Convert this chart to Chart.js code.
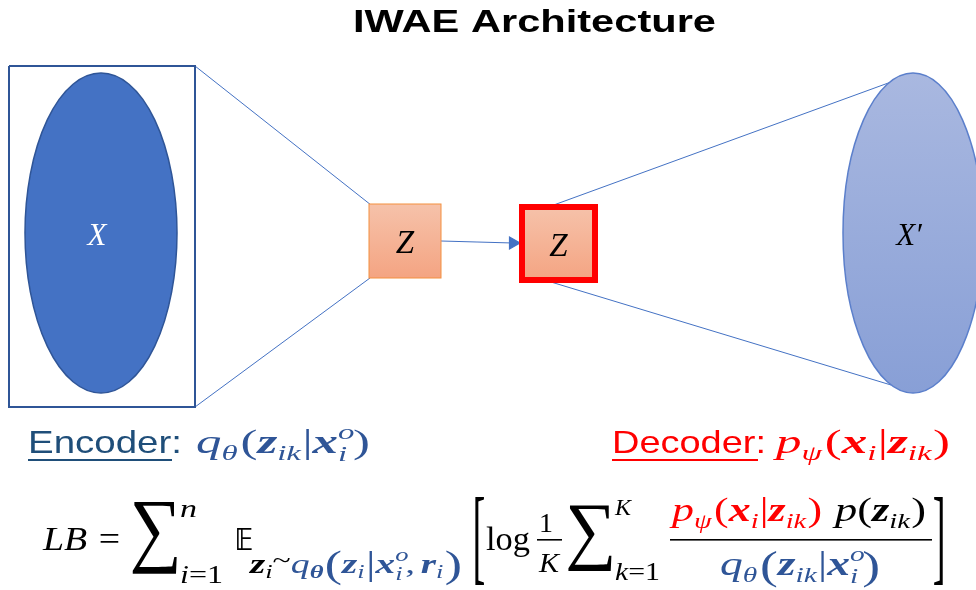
<!DOCTYPE html>
<html>
<head>
<meta charset="utf-8">
<script src="https://cdn.jsdelivr.net/npm/chart.js@4.4.0/dist/chart.umd.min.js"></script>
<style>
  body { margin: 0; background: #fff; }
  #wrap { width: 976px; height: 590px; }
</style>
</head>
<body>
<div id="wrap"><canvas id="diagram" width="976" height="590"></canvas></div>
<script>
// diagram content, in page units (x to the right, y downwards)
const title = 'IWAE Architecture';
const frame = [{x: 9, y: 66}, {x: 195, y: 66}, {x: 195, y: 407}, {x: 9, y: 407}, {x: 9, y: 66}];
const encoderEdges = [
    [{x: 195, y: 66}, {x: 371, y: 205}],
    [{x: 195, y: 407}, {x: 370, y: 278}]
];
const decoderEdges = [
    [{x: 551, y: 206}, {x: 891, y: 82}],
    [{x: 551, y: 282}, {x: 891, y: 385}]
];
const arrow = [{x: 441, y: 241}, {x: 513, y: 243}];
const boxes = [
    {x0: 369, y0: 204, x1: 441, y1: 278, label: 'Z', border: '#F4903F', width: 1},
    {x0: 522, y0: 207, x1: 595, y1: 280, label: 'Z', border: '#FF0000', width: 6}
];
const ellipses = [
    {cx: 101, cy: 233, rx: 76, ry: 160, label: 'X', top: '#4472C4', bottom: '#4472C4', edge: '#2F5597', ink: '#fff'},
    {cx: 913, cy: 233, rx: 70, ry: 160, label: 'X\u2032', top: '#A9B8E0', bottom: '#889FD6', edge: '#5B7FCB', ink: '#000'}
];
const encoderLabel = 'Encoder';
const decoderLabel = 'Decoder';

const BLUE = '#2F5597';
const RED = '#FF0000';
const SERIF = "'Liberation Serif', 'DejaVu Serif', serif";

function seg(t, st, sz, dy, c, extra) {
    return Object.assign({t: t, st: st, sz: sz, dy: dy || 0, c: c}, extra || {});
}
function fontOf(s) {
    const w = {i: 'italic ', b: 'bold ', bi: 'italic bold ', r: ''}[s.st];
    return w + s.sz + 'px ' + (s.fam || SERIF);
}
function runWidth(ctx, segs) {
    let w = 0;
    segs.forEach(s => {
        ctx.font = fontOf(s);
        if (!s.hold) w += ctx.measureText(s.t).width + (s.gap || 0);
    });
    return w;
}
// draws a row of text pieces, stretched so it spans x0..x1
function fitRun(ctx, x0, x1, y, segs) {
    const sx = (x1 - x0) / runWidth(ctx, segs);
    ctx.save();
    ctx.translate(x0, y);
    ctx.scale(sx, 1);
    let cx = 0;
    segs.forEach(s => {
        ctx.font = fontOf(s);
        ctx.fillStyle = s.c;
        ctx.fillText(s.t, cx, s.dy);
        if (!s.hold) cx += ctx.measureText(s.t).width + (s.gap || 0);
    });
    ctx.restore();
}
// draws one glyph scaled into a box
function fitGlyph(ctx, t, font, color, x0, y0, x1, y1) {
    ctx.font = font;
    const m = ctx.measureText(t);
    const w = m.actualBoundingBoxLeft + m.actualBoundingBoxRight;
    const h = m.actualBoundingBoxAscent + m.actualBoundingBoxDescent;
    ctx.save();
    ctx.translate(x0, y0);
    ctx.scale((x1 - x0) / w, (y1 - y0) / h);
    ctx.fillStyle = color;
    ctx.fillText(t, m.actualBoundingBoxLeft, m.actualBoundingBoxAscent);
    ctx.restore();
}

const shapes = {
    id: 'shapes',
    beforeDraw(chart) {
        const ctx = chart.ctx;
        ctx.save();
        ctx.fillStyle = '#fff';
        ctx.fillRect(0, 0, chart.width, chart.height);
        ctx.restore();
    },
    afterDatasetsDraw(chart) {
        const ctx = chart.ctx;
        const sx = chart.scales.x, sy = chart.scales.y;
        ctx.save();
        ellipses.forEach(e => {
            const cx = sx.getPixelForValue(e.cx), cy = sy.getPixelForValue(e.cy);
            const rx = sx.getPixelForValue(e.cx + e.rx) - cx, ry = sy.getPixelForValue(e.cy + e.ry) - cy;
            const g = ctx.createLinearGradient(0, cy - ry, 0, cy + ry);
            g.addColorStop(0, e.top);
            g.addColorStop(1, e.bottom);
            ctx.beginPath();
            ctx.ellipse(cx, cy, rx, ry, 0, 0, Math.PI * 2);
            ctx.fillStyle = g;
            ctx.fill();
            ctx.lineWidth = 1.5;
            ctx.strokeStyle = e.edge;
            ctx.stroke();
            ctx.font = 'italic 31px ' + SERIF;
            ctx.fillStyle = e.ink;
            ctx.textAlign = 'center';
            ctx.fillText(e.label, cx - 4, cy + 12);
        });
        boxes.forEach(b => {
            const x0 = sx.getPixelForValue(b.x0), x1 = sx.getPixelForValue(b.x1);
            const y0 = sy.getPixelForValue(b.y0), y1 = sy.getPixelForValue(b.y1);
            const g = ctx.createLinearGradient(0, y0, 0, y1);
            g.addColorStop(0, '#F6C2AA');
            g.addColorStop(1, '#F4A482');
            ctx.fillStyle = g;
            ctx.fillRect(x0, y0, x1 - x0, y1 - y0);
            ctx.lineWidth = b.width;
            ctx.strokeStyle = b.border;
            ctx.strokeRect(x0, y0, x1 - x0, y1 - y0);
            ctx.font = 'italic 33px ' + SERIF;
            ctx.fillStyle = '#000';
            ctx.textAlign = 'center';
            ctx.fillText(b.label, (x0 + x1) / 2, (y0 + y1) / 2 + 12);
        });
        ctx.restore();
    },
    afterDraw(chart) {
        const ctx = chart.ctx;
        ctx.save();
        ctx.textAlign = 'left';
        ctx.textBaseline = 'alphabetic';

        // title
        fitRun(ctx, 353, 716, 32, [seg(title, 'b', 31, 0, '#000', {fam: "'Liberation Sans', Arial, sans-serif"})]);

        // encoder / decoder captions
        const sans = {fam: "'Liberation Sans', Arial, sans-serif"};
        fitRun(ctx, 28, 182, 453, [seg(encoderLabel, 'r', 32, 0, '#1F4E79', sans), seg(':', 'r', 32, 0, '#1F4E79', sans)]);
        ctx.fillStyle = '#1F4E79';
        ctx.fillRect(28, 459, 144, 2);
        fitRun(ctx, 612, 766, 453, [seg(decoderLabel, 'r', 32, 0, RED, sans), seg(':', 'r', 32, 0, RED, sans)]);
        ctx.fillStyle = RED;
        ctx.fillRect(612, 459, 146, 2);

        fitRun(ctx, 196, 370, 453, [
            seg('q', 'i', 34, 0, BLUE), seg('\u03b8', 'i', 22, 7, BLUE, {gap: 2}), seg('(', 'r', 34, 0, BLUE),
            seg('z', 'bi', 34, 0, BLUE), seg('ik', 'i', 22, 7, BLUE, {gap: 1}), seg('|', 'r', 34, 0, BLUE),
            seg('x', 'bi', 34, 0, BLUE), seg('o', 'i', 22, -14, BLUE, {hold: true}), seg('i', 'i', 22, 8, BLUE, {gap: 4}),
            seg(')', 'r', 34, 0, BLUE)
        ]);
        fitRun(ctx, 776, 950, 453, [
            seg('p', 'i', 34, 0, RED), seg('\u03c8', 'i', 22, 7, RED, {gap: 2}), seg('(', 'r', 34, 0, RED),
            seg('x', 'bi', 34, 0, RED), seg('i', 'i', 22, 7, RED, {gap: 1}), seg('|', 'r', 34, 0, RED),
            seg('z', 'bi', 34, 0, RED), seg('ik', 'i', 22, 7, RED, {gap: 1}), seg(')', 'r', 34, 0, RED)
        ]);

        // lower bound formula
        const K = '#000';
        fitRun(ctx, 43, 120, 550, [seg('LB', 'i', 33, 0, K, {gap: 10}), seg('=', 'r', 33, 0, K)]);
        fitGlyph(ctx, '\u2211', '80px ' + SERIF, K, 132, 502, 177, 575);
        fitRun(ctx, 180, 197, 517, [seg('n', 'i', 26, 0, K)]);
        fitRun(ctx, 180, 223, 583, [seg('i', 'i', 25, 0, K), seg('=', 'r', 25, 0, K), seg('1', 'r', 25, 0, K)]);
        fitGlyph(ctx, '\ud835\udd3c', "bold 40px 'DejaVu Sans', 'DejaVu Serif', serif", K, 237, 528, 252, 550);
        fitRun(ctx, 250, 462, 573, [
            seg('z', 'bi', 28, 0, K), seg('i', 'i', 19, 5, K), seg('~', 'r', 24, -5, K),
            seg('q', 'i', 27, 0, BLUE), seg('\u03b8', 'bi', 19, 5, BLUE, {gap: 1}), seg('(', 'r', 37, 4, BLUE),
            seg('z', 'bi', 28, 0, BLUE), seg('i', 'i', 19, 5, BLUE, {gap: 1}), seg('|', 'r', 34, 2, BLUE),
            seg('x', 'bi', 28, 0, BLUE), seg('o', 'i', 19, -12, BLUE, {hold: true}), seg('i', 'i', 19, 7, BLUE, {gap: 2}),
            seg(',', 'r', 28, 0, BLUE, {gap: 4}), seg('r', 'bi', 28, 0, BLUE), seg('i', 'i', 19, 5, BLUE, {gap: 1}),
            seg(')', 'r', 37, 4, BLUE)
        ]);
        fitGlyph(ctx, '[', '90px ' + SERIF, K, 475, 495, 484, 585);
        fitRun(ctx, 486, 530, 550, [seg('log', 'r', 34, 0, K)]);
        fitRun(ctx, 539, 553, 532, [seg('1', 'r', 28, 0, K)]);
        ctx.fillStyle = K;
        ctx.fillRect(537, 539, 25, 1.6);
        fitRun(ctx, 539, 559, 572, [seg('K', 'i', 28, 0, K)]);
        fitGlyph(ctx, '\u2211', '80px ' + SERIF, K, 568, 505, 612, 572);
        fitRun(ctx, 615, 631, 515, [seg('K', 'i', 23, 0, K)]);
        fitRun(ctx, 615, 660, 580, [seg('k', 'i', 25, 0, K), seg('=', 'r', 25, 0, K), seg('1', 'r', 25, 0, K)]);
        fitRun(ctx, 672, 822, 521, [
            seg('p', 'i', 34, 0, RED), seg('\u03c8', 'i', 22, 7, RED, {gap: 2}), seg('(', 'r', 34, 0, RED),
            seg('x', 'bi', 34, 0, RED), seg('i', 'i', 22, 7, RED, {gap: 1}), seg('|', 'r', 34, 0, RED),
            seg('z', 'bi', 34, 0, RED), seg('ik', 'i', 22, 7, RED, {gap: 1}), seg(')', 'r', 34, 0, RED)
        ]);
        fitRun(ctx, 835, 926, 521, [
            seg('p', 'i', 34, 0, K), seg('(', 'r', 34, 0, K), seg('z', 'bi', 34, 0, K),
            seg('ik', 'i', 22, 7, K, {gap: 1}), seg(')', 'r', 34, 0, K)
        ]);
        ctx.fillStyle = K;
        ctx.fillRect(670, 539, 262, 1.6);
        fitRun(ctx, 720, 880, 575, [
            seg('q', 'i', 34, 0, BLUE), seg('\u03b8', 'i', 22, 7, BLUE, {gap: 2}), seg('(', 'r', 40, 4, BLUE),
            seg('z', 'bi', 34, 0, BLUE), seg('ik', 'i', 22, 7, BLUE, {gap: 1}), seg('|', 'r', 34, 0, BLUE),
            seg('x', 'bi', 34, 0, BLUE), seg('o', 'i', 22, -14, BLUE, {hold: true}), seg('i', 'i', 22, 8, BLUE, {gap: 3}),
            seg(')', 'r', 40, 4, BLUE)
        ]);
        fitGlyph(ctx, ']', '90px ' + SERIF, K, 934, 495, 943, 585);
        ctx.restore();
    }
};

const edgeStyle = {borderColor: '#4472C4', borderWidth: 1, pointRadius: 0, showLine: true, fill: false};
const datasets = [
    Object.assign({label: 'frame', data: frame}, edgeStyle, {borderColor: '#2F5597', borderWidth: 2}),
    ...encoderEdges.map((d, i) => Object.assign({label: 'enc' + i, data: d}, edgeStyle)),
    ...decoderEdges.map((d, i) => Object.assign({label: 'dec' + i, data: d}, edgeStyle)),
    Object.assign({label: 'arrow', data: arrow}, edgeStyle, {
        borderWidth: 1.2,
        pointRadius: [0, 7],
        pointStyle: 'triangle',
        rotation: 90,
        pointBackgroundColor: '#4472C4',
        pointBorderColor: '#4472C4'
    })
];

new Chart(document.getElementById('diagram'), {
    type: 'scatter',
    data: {datasets: datasets},
    options: {
        responsive: false,
        animation: false,
        events: [],
        layout: {autoPadding: false, padding: 0},
        clip: false,
        scales: {
            x: {type: 'linear', min: 0, max: 976, display: false},
            y: {type: 'linear', min: 0, max: 590, reverse: true, display: false}
        },
        plugins: {legend: {display: false}, tooltip: {enabled: false}}
    },
    plugins: [shapes]
});
</script>
</body>
</html>
